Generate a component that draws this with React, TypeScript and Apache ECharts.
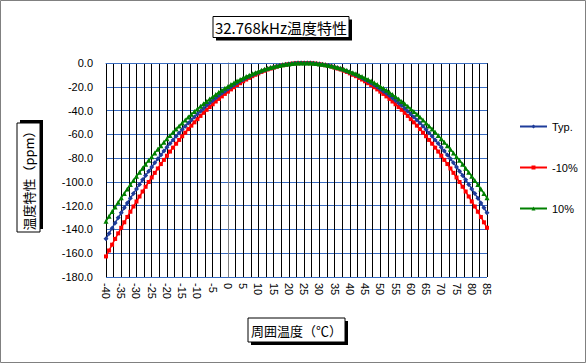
import React, { useEffect, useRef } from "react";
import * as echarts from "echarts";

const temps = [
  -40, -39, -38, -37, -36, -35, -34, -33, -32, -31, -30, -29, -28, -27, -26, -25, -24, -23, -22, -21,
  -20, -19, -18, -17, -16, -15, -14, -13, -12, -11, -10, -9, -8, -7, -6, -5, -4, -3, -2, -1,
  0, 1, 2, 3, 4, 5, 6, 7, 8, 9, 10, 11, 12, 13, 14, 15, 16, 17, 18, 19,
  20, 21, 22, 23, 24, 25, 26, 27, 28, 29, 30, 31, 32, 33, 34, 35, 36, 37, 38, 39,
  40, 41, 42, 43, 44, 45, 46, 47, 48, 49, 50, 51, 52, 53, 54, 55, 56, 57, 58, 59,
  60, 61, 62, 63, 64, 65, 66, 67, 68, 69, 70, 71, 72, 73, 74, 75, 76, 77, 78, 79,
  80, 81, 82, 83, 84, 85,
];

const typValues = [
  -147.9, -143.4, -138.9, -134.5, -130.2, -126.0, -121.8, -117.7, -113.7, -109.8,
  -105.9, -102.1, -98.3, -94.6, -91.0, -87.5, -84.0, -80.6, -77.3, -74.1,
  -70.9, -67.8, -64.7, -61.7, -58.8, -56.0, -53.2, -50.5, -47.9, -45.4,
  -42.9, -40.5, -38.1, -35.8, -33.6, -31.5, -29.4, -27.4, -25.5, -23.7,
  -21.9, -20.2, -18.5, -16.9, -15.4, -14.0, -12.6, -11.3, -10.1, -9.0,
  -7.9, -6.9, -5.9, -5.0, -4.2, -3.5, -2.8, -2.2, -1.7, -1.3,
  -0.9, -0.6, -0.3, -0.1, 0.0, 0.0,
  0.0, -0.1, -0.3, -0.6, -0.9, -1.3, -1.7, -2.2, -2.8, -3.5,
  -4.2, -5.0, -5.9, -6.9, -7.9, -9.0, -10.1, -11.3, -12.6, -14.0,
  -15.4, -16.9, -18.5, -20.2, -21.9, -23.7, -25.5, -27.4, -29.4, -31.5,
  -33.6, -35.8, -38.1, -40.5, -42.9, -45.4, -47.9, -50.5, -53.2, -56.0,
  -58.8, -61.7, -64.7, -67.8, -70.9, -74.1, -77.3, -80.6, -84.0, -87.5,
  -91.0, -94.6, -98.3, -102.1, -105.9, -109.8, -113.7, -117.7, -121.8, -126.0,
];

const minus10Values = [
  -162.7, -157.7, -152.8, -148.0, -143.3, -138.6, -134.0, -129.5, -125.1, -120.7,
  -116.5, -112.3, -108.1, -104.1, -100.1, -96.3, -92.4, -88.7, -85.0, -81.5,
  -78.0, -74.5, -71.2, -67.9, -64.7, -61.6, -58.6, -55.6, -52.7, -49.9,
  -47.2, -44.5, -41.9, -39.4, -37.0, -34.7, -32.4, -30.2, -28.1, -26.0,
  -24.1, -22.2, -20.4, -18.6, -17.0, -15.4, -13.9, -12.5, -11.1, -9.9,
  -8.7, -7.5, -6.5, -5.5, -4.7, -3.9, -3.1, -2.5, -1.9, -1.4,
  -1.0, -0.6, -0.3, -0.2, 0.0, 0.0,
  0.0, -0.2, -0.3, -0.6, -1.0, -1.4, -1.9, -2.5, -3.1, -3.9,
  -4.7, -5.5, -6.5, -7.5, -8.7, -9.9, -11.1, -12.5, -13.9, -15.4,
  -17.0, -18.6, -20.4, -22.2, -24.1, -26.0, -28.1, -30.2, -32.4, -34.7,
  -37.0, -39.4, -41.9, -44.5, -47.2, -49.9, -52.7, -55.6, -58.6, -61.6,
  -64.7, -67.9, -71.2, -74.5, -78.0, -81.5, -85.0, -88.7, -92.4, -96.3,
  -100.1, -104.1, -108.1, -112.3, -116.5, -120.7, -125.1, -129.5, -134.0, -138.6,
];

const plus10Values = [
  -133.1, -129.0, -125.0, -121.1, -117.2, -113.4, -109.7, -106.0, -102.3, -98.8,
  -95.3, -91.9, -88.5, -85.2, -81.9, -78.8, -75.6, -72.6, -69.6, -66.7,
  -63.8, -61.0, -58.2, -55.6, -53.0, -50.4, -47.9, -45.5, -43.1, -40.8,
  -38.6, -36.4, -34.3, -32.3, -30.3, -28.4, -26.5, -24.7, -23.0, -21.3,
  -19.7, -18.1, -16.7, -15.2, -13.9, -12.6, -11.4, -10.2, -9.1, -8.1,
  -7.1, -6.2, -5.3, -4.5, -3.8, -3.2, -2.6, -2.0, -1.5, -1.1,
  -0.8, -0.5, -0.3, -0.1, 0.0, 0.0,
  0.0, -0.1, -0.3, -0.5, -0.8, -1.1, -1.5, -2.0, -2.6, -3.2,
  -3.8, -4.5, -5.3, -6.2, -7.1, -8.1, -9.1, -10.2, -11.4, -12.6,
  -13.9, -15.2, -16.7, -18.1, -19.7, -21.3, -23.0, -24.7, -26.5, -28.4,
  -30.3, -32.3, -34.3, -36.4, -38.6, -40.8, -43.1, -45.5, -47.9, -50.4,
  -53.0, -55.6, -58.2, -61.0, -63.8, -66.7, -69.6, -72.6, -75.6, -78.8,
  -81.9, -85.2, -88.5, -91.9, -95.3, -98.8, -102.3, -106.0, -109.7, -113.4,
];

const seriesNames = ["Typ.", "-10%", "10%"];
const titleText = "32.768kHz温度特性";
const yTitleText = "温度特性（ppm）";
const xTitleText = "周囲温度（℃）";

const JP = '"Noto Sans CJK JP", "Noto Sans", sans-serif';
const LAT = '"Liberation Sans", Arial, sans-serif';

function boxedTitle(cx: number, cy: number, w: number, h: number, text: string, size: number, rotation = 0) {
  return {
    type: "group",
    x: cx,
    y: cy,
    rotation,
    children: [
      { type: "rect", shape: { x: -w / 2 + 3, y: -h / 2 + 3, width: w, height: h }, style: { fill: "#000" } },
      { type: "rect", shape: { x: -w / 2, y: -h / 2, width: w, height: h }, style: { fill: "#fff", stroke: "#000", lineWidth: 1 } },
      {
        type: "text",
        x: 0,
        y: 0,
        style: {
          text,
          font: `${size}px ${JP}`,
          fill: "#000",
          textAlign: "center",
          textVerticalAlign: "middle",
          align: "center",
          verticalAlign: "middle",
        },
      },
    ],
  };
}

export default function App() {
  const ref = useRef<HTMLDivElement>(null);
  useEffect(() => {
    document.body.style.margin = "0";
    const chart = echarts.init(ref.current!, null, { renderer: "svg" });
    const mk = (vals: number[]) => temps.map((t, i) => [t, vals[i]]);
    const yGridColors = ["#3A6CC0", "#3A6CC0", "#3A6CC0", "#3A6CC0", "#3A6CC0", "#3A6CC0", "#3A6CC0", "#3A6CC0", "#3A6CC0", "#909090"];
    chart.setOption({
      animation: false,
      backgroundColor: "#fff",
      grid: { left: 106, right: 100, top: 63, bottom: 87 },
      xAxis: {
        type: "value",
        min: -40,
        max: 85,
        interval: 2.5,
        axisLine: { show: true, lineStyle: { color: "#3A6CC0" } },
        axisTick: { show: false },
        splitLine: { show: true, lineStyle: { color: "#000", width: 1 } },
        axisLabel: {
          rotate: -90,
          margin: 6,
          color: "#000",
          fontFamily: LAT,
          fontSize: 11,
          formatter: (v: number) => (Math.abs(v % 5) < 1e-9 ? String(v) : ""),
        },
      },
      yAxis: {
        type: "value",
        min: -180,
        max: 0,
        interval: 20,
        axisLine: { show: true, lineStyle: { color: "#808080" } },
        axisTick: { show: false },
        splitLine: { show: true, lineStyle: { color: yGridColors, width: 1 } },
        axisLabel: {
          color: "#000",
          fontFamily: LAT,
          fontSize: 11,
          margin: 13,
          formatter: (v: number) => v.toFixed(1),
        },
      },
      legend: {
        orient: "vertical",
        left: 514,
        top: 116,
        itemWidth: 27,
        itemHeight: 5,
        itemGap: 30,
        textStyle: { fontFamily: LAT, fontSize: 11, color: "#000" },
        data: seriesNames,
      },
      series: [
        {
          name: seriesNames[0],
          type: "line",
          data: mk(typValues),
          symbol: "diamond",
          symbolSize: 5,
          lineStyle: { color: "#1F3C9A", width: 1.5 },
          itemStyle: { color: "#1F3C9A" },
          z: 3,
        },
        {
          name: seriesNames[1],
          type: "line",
          data: mk(minus10Values),
          symbol: "rect",
          symbolSize: 4,
          lineStyle: { color: "#FF0000", width: 1.5 },
          itemStyle: { color: "#FF0000" },
          z: 2,
        },
        {
          name: seriesNames[2],
          type: "line",
          data: mk(plus10Values),
          symbol: "triangle",
          symbolSize: 5,
          lineStyle: { color: "#008000", width: 1.5 },
          itemStyle: { color: "#008000" },
          z: 4,
        },
      ],
      graphic: [
        { type: "rect", shape: { x: 0.5, y: 0.5, width: 585, height: 362 }, style: { fill: "none", stroke: "#808080", lineWidth: 1 }, silent: true },
        boxedTitle(281, 27, 136, 21, titleText, 15),
        boxedTitle(28.5, 177.5, 109, 23, yTitleText, 13, Math.PI / 2),
        boxedTitle(296.5, 330, 97, 24, xTitleText, 13),
      ],
    });
    return () => chart.dispose();
  }, []);
  return <div ref={ref} style={{ width: 587, height: 364 }} />;
}
